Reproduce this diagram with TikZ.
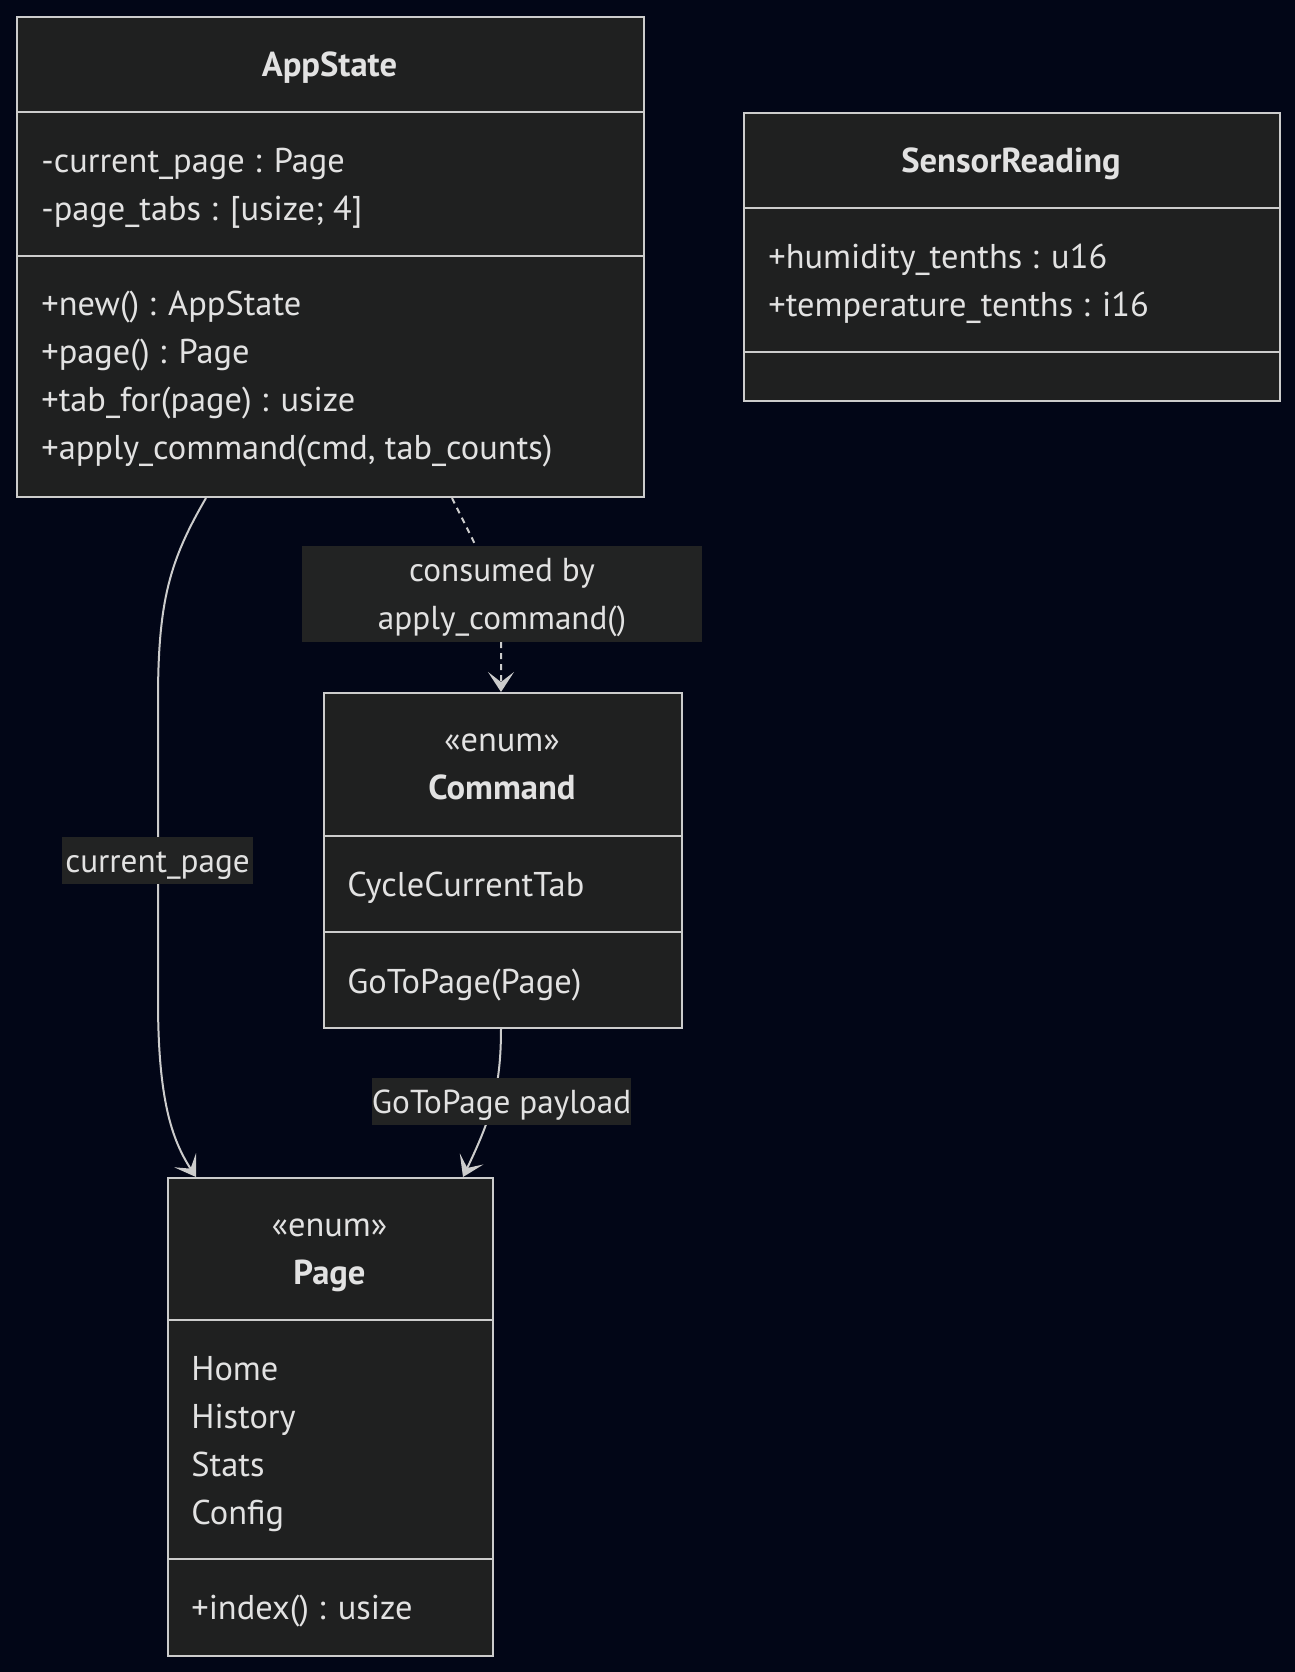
\documentclass[tikz,border=0pt]{standalone}
\usepackage{fontspec}
\setmainfont{PT Sans}
\usetikzlibrary{arrows.meta,calc}
\definecolor{bg}{HTML}{020617}
\definecolor{nodefill}{HTML}{1F2020}
\definecolor{strokec}{HTML}{CCCCCC}
\definecolor{txt}{HTML}{E2E2E2}
\definecolor{lblbg}{HTML}{222323}
\begin{document}
\begin{tikzpicture}[x=0.5pt,y=-0.5pt,
  font=\fontsize{17.2pt}{24pt}\selectfont, text=txt,
  classbox/.style={draw=strokec, fill=nodefill, line width=1pt, rectangle, inner sep=0pt, anchor=north west},
  member/.style={anchor=base west, inner sep=0pt},
  ctitle/.style={anchor=base, inner sep=0pt, font=\fontsize{17.3pt}{24pt}\selectfont\bfseries},
  stereo/.style={anchor=base, inner sep=0pt},
  divider/.style={draw=strokec, line width=1pt},
  edge/.style={draw=strokec, line width=1pt},
  tipped/.style={-{Stealth[length=10pt,width=13pt,inset=5pt]}},
  dashedline/.style={dash pattern=on 3pt off 2.5pt},
  lbl/.style={fill=lblbg, inner sep=0pt, align=center, text=txt, font=\fontsize{16.6pt}{24pt}\selectfont}]

\fill[bg] (0,0) rectangle (1295,1672);
\useasboundingbox (0,0) rectangle (1295,1672);

% AppState
\node[classbox, minimum width=313.5pt, minimum height=240pt] (appstate) at (16,16) {};
\draw[divider] ($(appstate.north west)+(0,96)$) -- ($(appstate.north east)+(0,96)$);
\draw[divider] ($(appstate.north west)+(0,240)$) -- ($(appstate.north east)+(0,240)$);
\node[ctitle] (appstate-t) at (329.5,76) {AppState};
\node[member] (appstate-a1) at (41,172) {-current\_page : Page};
\node[member] (appstate-a2) at (41,220) {-page\_tabs : [usize; 4]};
\node[member] (appstate-m1) at (41,315) {+new() : AppState};
\node[member] (appstate-m2) at (41,363) {+page() : Page};
\node[member] (appstate-m3) at (41,411) {+tab\_for(page) : usize};
\node[member] (appstate-m4) at (41,459) {+apply\_command(cmd, tab\_counts)};

% SensorReading
\node[classbox, minimum width=268pt, minimum height=144pt] (sensor) at (743,112) {};
\draw[divider] ($(sensor.north west)+(0,96)$) -- ($(sensor.north east)+(0,96)$);
\draw[divider] ($(sensor.north west)+(0,240)$) -- ($(sensor.north east)+(0,240)$);
\node[ctitle] (sensor-t) at (1011,172) {SensorReading};
\node[member] (sensor-a1) at (768,268) {+humidity\_tenths : u16};
\node[member] (sensor-a2) at (768,316) {+temperature\_tenths : i16};

% Command
\node[classbox, minimum width=179pt, minimum height=167.5pt] (command) at (323,692) {};
\draw[divider] ($(command.north west)+(0,144)$) -- ($(command.north east)+(0,144)$);
\draw[divider] ($(command.north west)+(0,240)$) -- ($(command.north east)+(0,240)$);
\node[stereo] (command-s) at (502,751) {«enum»};
\node[ctitle] (command-t) at (502,799) {Command};
\node[member] (command-a1) at (347,896) {CycleCurrentTab};
\node[member] (command-m1) at (347,993) {GoToPage(Page)};

% Page
\node[classbox, minimum width=162.5pt, minimum height=239pt] (page) at (167,1177) {};
\draw[divider] ($(page.north west)+(0,143)$) -- ($(page.north east)+(0,143)$);
\draw[divider] ($(page.north west)+(0,382)$) -- ($(page.north east)+(0,382)$);
\node[stereo] (page-s) at (329.5,1236) {«enum»};
\node[ctitle] (page-t) at (329.5,1284) {Page};
\node[member] (page-a1) at (191,1380) {Home};
\node[member] (page-a2) at (191,1428) {History};
\node[member] (page-a3) at (191,1476) {Stats};
\node[member] (page-a4) at (191,1524) {Config};
\node[member] (page-m1) at (191,1619) {+index() : usize};

% edges
\coordinate (e1s) at ($(appstate.south west)+(190,0)$);
\coordinate (e1e) at ($(page.north west)+(29,0)$);
\draw[edge,tipped] (e1s) .. controls (170,560) and (158,600) .. (158,700) -- (158,1000) .. controls (158,1100) and (172,1140) .. (e1e);
\node[lbl, minimum width=95.5pt, minimum height=23.5pt, text height=17.5pt, text depth=6pt] (l1) at (157.5,860.5) {current\_page};

\coordinate (e2s) at ($(appstate.south west)+(436,0)$);
\coordinate (e2e) at ($(command.north west)+(178,0)$);
\draw[edge,dashedline,tipped] (e2s) .. controls (485,565) and (501,590) .. (501,640) -- (e2e);
\node[lbl, minimum width=200pt, minimum height=48pt, text height=41.5pt, text depth=6.5pt] (l2) at (502,594) {consumed by\\apply\_command()};

\coordinate (e3s) at ($(command.south west)+(178,0)$);
\coordinate (e3e) at ($(page.north west)+(296,0)$);
\draw[edge,tipped] (e3s) .. controls (501,1090) and (490,1120) .. (e3e);
\node[lbl, minimum width=129.5pt, minimum height=23.5pt, text height=17.5pt, text depth=6pt] (l3) at (501.5,1101.5) {GoToPage payload};
\end{tikzpicture}
\end{document}
